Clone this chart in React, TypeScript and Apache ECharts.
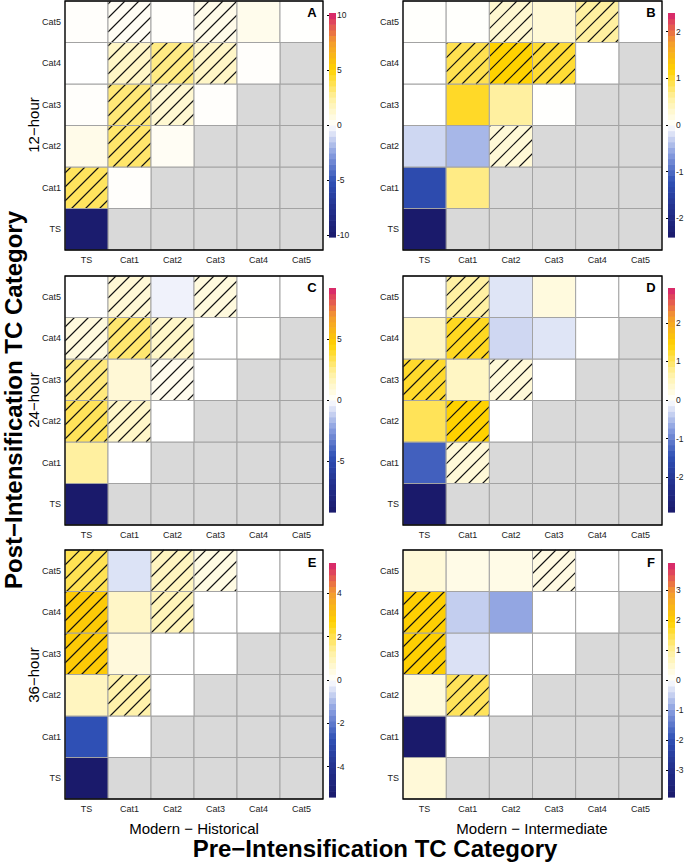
import React, { useEffect, useRef } from 'react';
import * as echarts from 'echarts';

const CATS = ['TS', 'Cat1', 'Cat2', 'Cat3', 'Cat4', 'Cat5'];

// rows: post-intensification category (TS..Cat5), cols: pre-intensification (TS..row)
const valuesA = [[-10.0], [3.6, 0.1], [0.6, 3.4, 0.3], [0.1, 3.2, 1.2, 0.1], [0.0, 1.5, 3.0, 1.5, 0.1], [0.1, 0.3, 0.1, 0.6, 0.5, 0.05]];
const hatchA = [[0], [1, 0], [0, 1, 0], [0, 1, 1, 0], [0, 1, 1, 1, 0], [0, 1, 0, 1, 0, 0]];
const valuesB = [[-2.4], [-1.3, 0.7], [-0.25, -0.45, 0.25], [0.0, 1.05, 0.6, 0.01], [0.0, 0.9, 1.2, 1.0, 0.0], [0.02, 0.02, 0.3, 0.25, 0.6, 0.0]];
const hatchB = [[0], [0, 0], [0, 0, 1], [0, 0, 0, 0], [0, 1, 1, 1, 0], [0, 0, 1, 0, 1, 0]];
const valuesC = [[-9.2], [2.3, 0.0], [3.3, 1.3, 0.0], [2.8, 1.0, 0.4, 0.0], [0.8, 3.0, 1.3, 0.0, 0.02], [0.0, 1.0, -0.3, 0.8, 0.0, 0.0]];
const hatchC = [[0], [0, 0], [1, 1, 0], [1, 0, 1, 0], [1, 1, 1, 0, 0], [0, 1, 0, 1, 0, 0]];
const valuesD = [[-2.9], [-1.3, 0.3], [1.05, 1.45, 0.0], [1.25, 0.45, 0.3, 0.0], [0.45, 1.3, -0.3, -0.2, 0.0], [0.0, 0.7, -0.2, 0.25, 0.0, 0.0]];
const hatchD = [[0], [0, 1], [0, 1, 0], [1, 0, 1, 0], [0, 1, 0, 0, 0], [0, 1, 0, 0, 0, 0]];
const valuesE = [[-5.4], [-2.7, 0.0], [0.9, 1.2, 0.0], [2.9, 0.5, 0.0, 0.0], [2.9, 0.8, 1.0, 0.0, 0.0], [2.0, -0.4, 0.9, 0.4, 0.0, 0.0]];
const hatchE = [[0], [0, 0], [0, 1, 0], [1, 0, 0, 0], [1, 0, 1, 0, 0], [1, 0, 1, 1, 0, 0]];
const valuesF = [[0.4], [-3.9, 0.0], [0.35, 1.4, 0.0], [2.0, -0.3, 0.0, 0.0], [2.0, -0.5, -0.9, 0.0, 0.0], [0.4, 0.25, 0.25, 0.3, 0.0, 0.0]];
const hatchF = [[0], [0, 0], [0, 1, 0], [1, 0, 0, 0], [1, 0, 0, 0, 0], [0, 0, 0, 1, 0, 0]];

const limits = [10.2, 2.4, 9.2, 2.9, 5.4, 3.9];
const ticksA = [-10, -5, 0, 5, 10];
const ticksB = [-2, -1, 0, 1, 2];
const ticksC = [-5, 0, 5];
const ticksD = [-2, -1, 0, 1, 2];
const ticksE = [-4, -2, 0, 2, 4];
const ticksF = [-3, -2, -1, 0, 1, 2, 3];

const panelLetters = ['A', 'B', 'C', 'D', 'E', 'F'];
const rowTitles = ['12\u2212hour', '24\u2212hour', '36\u2212hour'];
const colTitles = ['Modern \u2212 Historical', 'Modern \u2212 Intermediate'];

const PALETTE = ['#1a1a6b', '#23308c', '#2f50b5', '#8a9fe0', '#ffffff', '#fff0a0', '#ffd200', '#f39a30', '#d6206f'];

const NARROW = '"Liberation Sans Narrow", "Arial Narrow", "Liberation Sans", sans-serif';
const SANS = '"Liberation Sans", Arial, sans-serif';

const PANEL_LEFT = [65, 403];
const PANEL_WIDTH = [258, 259];
const PANEL_TOP = [1, 276, 550];
const PANEL_HEIGHT = 249;
const BAR_LEFT = [329, 668];
const BAR_TOP = [13, 288, 563];
const BAR_HEIGHT = [224, 224, 234];
const BAR_BINS = 40;

function cellData(values: number[][], hatch: number[][]) {
  const out: number[][] = [];
  values.forEach((row, r) => row.forEach((v, c) => out.push([c, r, v, hatch[r][c]])));
  return out;
}
function greyData() {
  const out: number[][] = [];
  for (let r = 0; r < CATS.length; r++) for (let c = r + 1; c < CATS.length; c++) out.push([c, r]);
  return out;
}
function barBins(limit: number) {
  const out: number[][] = [];
  const d = (2 * limit) / BAR_BINS;
  for (let k = 0; k < BAR_BINS; k++) {
    const lo = -limit + k * d;
    out.push([lo, lo + d, lo + d / 2]);
  }
  return out;
}
const fmt = (v: number) => (v < 0 ? '-' + Math.abs(v) : String(v));

function buildOption() {
  const vals = [valuesA, valuesB, valuesC, valuesD, valuesE, valuesF];
  const hats = [hatchA, hatchB, hatchC, hatchD, hatchE, hatchF];
  const ticks = [ticksA, ticksB, ticksC, ticksD, ticksE, ticksF];
  const grid: any[] = [];
  const xAxis: any[] = [];
  const yAxis: any[] = [];
  const series: any[] = [];
  const visualMap: any[] = [];
  const graphic: any[] = [];

  for (let i = 0; i < 6; i++) {
    const col = i % 2, row = Math.floor(i / 2);
    grid.push({
      left: PANEL_LEFT[col], top: PANEL_TOP[row], width: PANEL_WIDTH[col], height: PANEL_HEIGHT,
      show: true, borderColor: '#000', borderWidth: 1.3, backgroundColor: 'transparent', z: 10,
      outerBoundsMode: 'none', containLabel: false,
    });
    xAxis.push({
      type: 'category', gridIndex: i, data: CATS,
      axisLine: { show: false }, axisTick: { show: false }, splitLine: { show: false },
      axisLabel: { fontSize: 9, color: '#222', margin: 5, fontFamily: NARROW },
    });
    yAxis.push({
      type: 'category', gridIndex: i, data: CATS,
      axisLine: { show: false }, axisTick: { show: false }, splitLine: { show: false },
      axisLabel: { fontSize: 9, color: '#222', margin: 4, fontFamily: NARROW },
    });
  }
  for (let i = 0; i < 6; i++) {
    const col = i % 2, row = Math.floor(i / 2);
    grid.push({
      left: BAR_LEFT[col], top: BAR_TOP[row], width: 7, height: BAR_HEIGHT[row],
      show: false, outerBoundsMode: 'none', containLabel: false,
    });
    xAxis.push({ type: 'value', gridIndex: 6 + i, show: false, min: 0, max: 1 });
    yAxis.push({
      type: 'value', gridIndex: 6 + i, min: -limits[i], max: limits[i], position: 'right',
      axisLine: { show: false }, splitLine: { show: false },
      axisTick: { show: true, inside: true, length: 2, lineStyle: { color: '#000', width: 1 }, customValues: ticks[i] },
      axisLabel: { customValues: ticks[i], fontSize: 8.5, color: '#222', margin: 1, fontFamily: NARROW, formatter: fmt },
      z: 5,
    });
  }

  const cellShape = (api: any) => {
    const c = api.coord([api.value(0), api.value(1)]);
    const s = api.size([1, 1]);
    return { x: c[0] - s[0] / 2, y: c[1] - s[1] / 2, width: s[0], height: s[1] };
  };

  for (let i = 0; i < 6; i++) {
    series.push({
      type: 'custom', xAxisIndex: i, yAxisIndex: i, data: greyData(), silent: true,
      renderItem: (_p: any, api: any) => ({
        type: 'rect', shape: cellShape(api), style: { fill: '#d9d9d9', stroke: '#a3a3a3', lineWidth: 1 },
      }),
    });
    const idx = series.length;
    series.push({
      type: 'custom', xAxisIndex: i, yAxisIndex: i, data: cellData(vals[i], hats[i]), silent: true,
      dimensions: ['x', 'y', 'v', 'h'], encode: { x: 0, y: 1 },
      renderItem: (_p: any, api: any) => {
        const r = cellShape(api);
        const children: any[] = [{ type: 'rect', shape: r, style: { fill: api.visual('color'), stroke: null } }];
        if (api.value(3)) {
          const sp = 14;
          const x0 = r.x, y0 = r.y, x1 = r.x + r.width, y1 = r.y + r.height;
          for (let cc = Math.ceil((x0 + y0) / sp) * sp; cc <= x1 + y1; cc += sp) {
            const xa = Math.max(x0, cc - y1), xb = Math.min(x1, cc - y0);
            if (xb - xa > 0.5) {
              children.push({ type: 'line', shape: { x1: xa, y1: cc - xa, x2: xb, y2: cc - xb }, style: { stroke: '#111', lineWidth: 1.1 } });
            }
          }
        }
        children.push({ type: 'rect', shape: r, style: { fill: null, stroke: '#a3a3a3', lineWidth: 1 } });
        return { type: 'group', children };
      },
    });
    const barIdx = series.length;
    series.push({
      type: 'custom', xAxisIndex: 6 + i, yAxisIndex: 6 + i, data: barBins(limits[i]), silent: true,
      dimensions: ['lo', 'hi', 'mid'], encode: { y: [0, 1] },
      renderItem: (_p: any, api: any) => {
        const p0 = api.coord([0, api.value(0)]);
        const p1 = api.coord([1, api.value(1)]);
        return {
          type: 'rect',
          shape: { x: p0[0], y: p1[1], width: p1[0] - p0[0], height: p0[1] - p1[1] + 0.6 },
          style: { fill: api.visual('color'), stroke: null },
        };
      },
      z: 1,
    });
    visualMap.push({
      type: 'continuous', show: false, seriesIndex: [idx], dimension: 2,
      min: -limits[i], max: limits[i], inRange: { color: PALETTE },
    });
    visualMap.push({
      type: 'continuous', show: false, seriesIndex: [barIdx], dimension: 2,
      min: -limits[i], max: limits[i], inRange: { color: PALETTE },
    });
  }

  const letterPos = [[312, 12], [651, 12], [312, 287], [651, 287], [312, 562], [651, 562]];
  letterPos.forEach((p, i) => {
    graphic.push({ type: 'text', x: p[0], y: p[1], style: { text: panelLetters[i], font: `bold 13px ${SANS}`, fill: '#000', align: 'center', verticalAlign: 'middle' }, z: 20 });
  });
  [125, 400, 675].forEach((y, i) => {
    graphic.push({ type: 'text', x: 33, y, rotation: Math.PI / 2, style: { text: rowTitles[i], font: `15px ${SANS}`, fill: '#000', align: 'center', verticalAlign: 'middle' } });
  });
  [194, 532].forEach((x, i) => {
    graphic.push({ type: 'text', x, y: 828, style: { text: colTitles[i], font: `15px ${SANS}`, fill: '#000', align: 'center', verticalAlign: 'middle' } });
  });
  graphic.push({ type: 'text', x: 375, y: 848, style: { text: 'Pre\u2212Intensification TC Category', font: `bold 24px ${SANS}`, fill: '#000', align: 'center', verticalAlign: 'middle' } });
  graphic.push({ type: 'text', x: 13, y: 400, rotation: Math.PI / 2, style: { text: 'Post\u2212Intensification TC Category', font: `bold 24px ${SANS}`, fill: '#000', align: 'center', verticalAlign: 'middle' } });

  return { animation: false, backgroundColor: '#fff', grid, xAxis, yAxis, series, visualMap, graphic };
}

export default function App() {
  const ref = useRef<HTMLDivElement>(null);
  useEffect(() => {
    const chart = echarts.init(ref.current!, null, { renderer: 'svg' });
    chart.setOption(buildOption() as any);
    return () => chart.dispose();
  }, []);
  return <div ref={ref} style={{ position: 'fixed', left: 0, top: 0, width: 685, height: 862, background: '#fff' }} />;
}
